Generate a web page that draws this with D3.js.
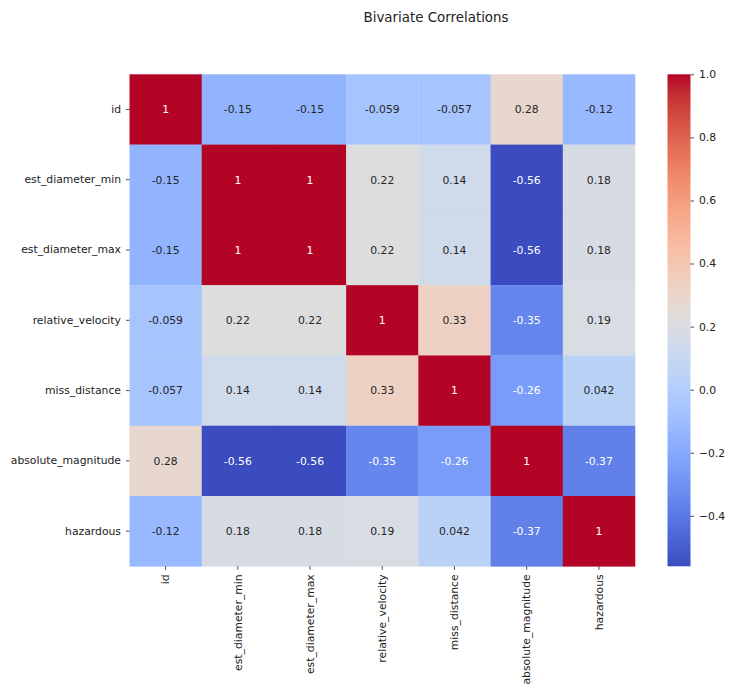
<!DOCTYPE html>
<html lang="en">
<head>
    <meta charset="UTF-8">
    <title>Bivariate Correlations</title>
    <script src="https://d3js.org/d3.v7.min.js"></script>
</head>
<style>
    body{
        margin: 0;
        background-color: white;
    }
    text{
        font-family: "DejaVu Sans", sans-serif;
    }
</style>
<body>
    <script>
    const labels = ['id', 'est_diameter_min', 'est_diameter_max', 'relative_velocity',
        'miss_distance', 'absolute_magnitude', 'hazardous'];

    const corrId = [1, -0.15, -0.15, -0.059, -0.057, 0.28, -0.12];
    const corrDiamMin = [-0.15, 1, 1, 0.22, 0.14, -0.56, 0.18];
    const corrDiamMax = [-0.15, 1, 1, 0.22, 0.14, -0.56, 0.18];
    const corrVelocity = [-0.059, 0.22, 0.22, 1, 0.33, -0.35, 0.19];
    const corrMiss = [-0.057, 0.14, 0.14, 0.33, 1, -0.26, 0.042];
    const corrMagnitude = [0.28, -0.56, -0.56, -0.35, -0.26, 1, -0.37];
    const corrHazardous = [-0.12, 0.18, 0.18, 0.19, 0.042, -0.37, 1];

    const colorbarTicks = [-0.4, -0.2, 0.0, 0.2, 0.4, 0.6, 0.8, 1.0];

    const rows = [corrId, corrDiamMin, corrDiamMax, corrVelocity, corrMiss, corrMagnitude, corrHazardous];

    // matplotlib coolwarm (Moreland) control colours
    const coolwarm = [
        [59,76,192],[68,90,204],[77,104,215],[87,117,225],[98,130,234],[108,142,241],
        [119,154,247],[130,165,251],[141,176,254],[152,185,255],[163,194,255],[174,201,253],
        [184,208,249],[194,213,244],[204,217,238],[213,219,230],[221,221,221],[229,216,209],
        [236,211,197],[241,204,184],[245,196,172],[247,187,160],[247,177,148],[247,166,135],
        [244,154,123],[241,141,111],[236,127,99],[229,112,88],[222,96,77],[213,80,66],
        [203,62,56],[192,40,47],[180,4,38]
    ].map(c => d3.rgb(c[0], c[1], c[2]).toString());
    const cmap = d3.piecewise(d3.interpolateRgb, coolwarm);

    const cells = [];
    rows.forEach((r, i) => r.forEach((v, j) => cells.push({ row: labels[i], col: labels[j], value: v })));

    const width = 751;
    const height = 697;
    const margin = { top: 74.3, left: 129.5 };
    const chartWidth = 505.5;
    const chartHeight = 492;
    const fontSize = '10.8px';

    const vmin = d3.min(cells, d => d.value);
    const vmax = d3.max(cells, d => d.value);
    const color = d3.scaleSequential(cmap).domain([vmin, vmax]);

    const svg = d3.select('body')
        .append('svg')
        .attr('width', width)
        .attr('height', height);

    svg.append('text')
        .attr('x', 436)
        .attr('y', 21.5)
        .attr('text-anchor', 'middle')
        .style('font-size', '13.4px')
        .attr('fill', '#222')
        .text('Bivariate Correlations');

    const chart = svg.append('g')
        .attr('transform', `translate(${margin.left}, ${margin.top})`);

    const xScale = d3.scaleBand().domain(labels).range([0, chartWidth]);
    const yScale = d3.scaleBand().domain(labels).range([0, chartHeight]);

    chart.selectAll('.cell')
        .data(cells)
        .enter()
        .append('rect')
        .attr('class', 'cell')
        .attr('x', d => xScale(d.col))
        .attr('y', d => yScale(d.row))
        .attr('width', xScale.bandwidth() + 0.3)
        .attr('height', yScale.bandwidth() + 0.3)
        .attr('fill', d => color(d.value));

    // seaborn picks white/black annotation text by luminance
    function luminance(c) {
        const rgb = d3.rgb(c);
        const lin = v => { v /= 255; return v <= 0.03928 ? v / 12.92 : Math.pow((v + 0.055) / 1.055, 2.4); };
        return 0.2126 * lin(rgb.r) + 0.7152 * lin(rgb.g) + 0.0722 * lin(rgb.b);
    }
    const fmt = d3.format('.2~g');

    chart.selectAll('.annot')
        .data(cells)
        .enter()
        .append('text')
        .attr('class', 'annot')
        .attr('x', d => xScale(d.col) + xScale.bandwidth() / 2)
        .attr('y', d => yScale(d.row) + yScale.bandwidth() / 2)
        .attr('dy', '0.35em')
        .attr('text-anchor', 'middle')
        .style('font-size', fontSize)
        .attr('fill', d => luminance(color(d.value)) < 0.408 ? '#ffffff' : '#262626')
        .text(d => fmt(d.value).replace('\u2212', '-'));

    // Axes
    const yAxis = chart.append('g')
        .call(d3.axisLeft(yScale).tickSize(3.5).tickPadding(5));
    const xAxis = chart.append('g')
        .attr('transform', `translate(0, ${chartHeight})`)
        .call(d3.axisBottom(xScale).tickSize(3.5).tickPadding(5));

    xAxis.selectAll('text')
        .attr('transform', 'rotate(-90)')
        .attr('text-anchor', 'end')
        .attr('x', -8)
        .attr('y', 0)
        .attr('dy', '0.35em');

    [xAxis, yAxis].forEach(ax => {
        ax.select('.domain').remove();
        ax.selectAll('line').attr('stroke', '#222').attr('stroke-width', 0.8);
        ax.selectAll('text').style('font-size', fontSize).attr('fill', '#222')
            .style('font-family', '"DejaVu Sans", sans-serif');
    });

    // Colorbar
    const cbX = 667.5;
    const cbW = 23;
    const cbScale = d3.scaleLinear().domain([vmin, vmax]).range([margin.top + chartHeight, margin.top]);

    const defs = svg.append('defs');
    const grad = defs.append('linearGradient')
        .attr('id', 'cbgrad')
        .attr('x1', 0).attr('y1', 1).attr('x2', 0).attr('y2', 0);
    d3.range(0, 1.0001, 0.02).forEach(t => {
        grad.append('stop')
            .attr('offset', t)
            .attr('stop-color', cmap(t));
    });

    svg.append('rect')
        .attr('x', cbX)
        .attr('y', cbScale(vmax))
        .attr('width', cbW)
        .attr('height', cbScale(vmin) - cbScale(vmax))
        .attr('fill', 'url(#cbgrad)');

    const cbAxis = svg.append('g')
        .attr('transform', `translate(${cbX + cbW}, 0)`)
        .call(d3.axisRight(cbScale).tickValues(colorbarTicks).tickFormat(d3.format('.1f')).tickSize(3.5).tickPadding(5));
    cbAxis.select('.domain').remove();
    cbAxis.selectAll('line').attr('stroke', '#222').attr('stroke-width', 0.8);
    cbAxis.selectAll('text').style('font-size', fontSize).attr('fill', '#222')
        .style('font-family', '"DejaVu Sans", sans-serif');
    </script>
</body>
</html>
